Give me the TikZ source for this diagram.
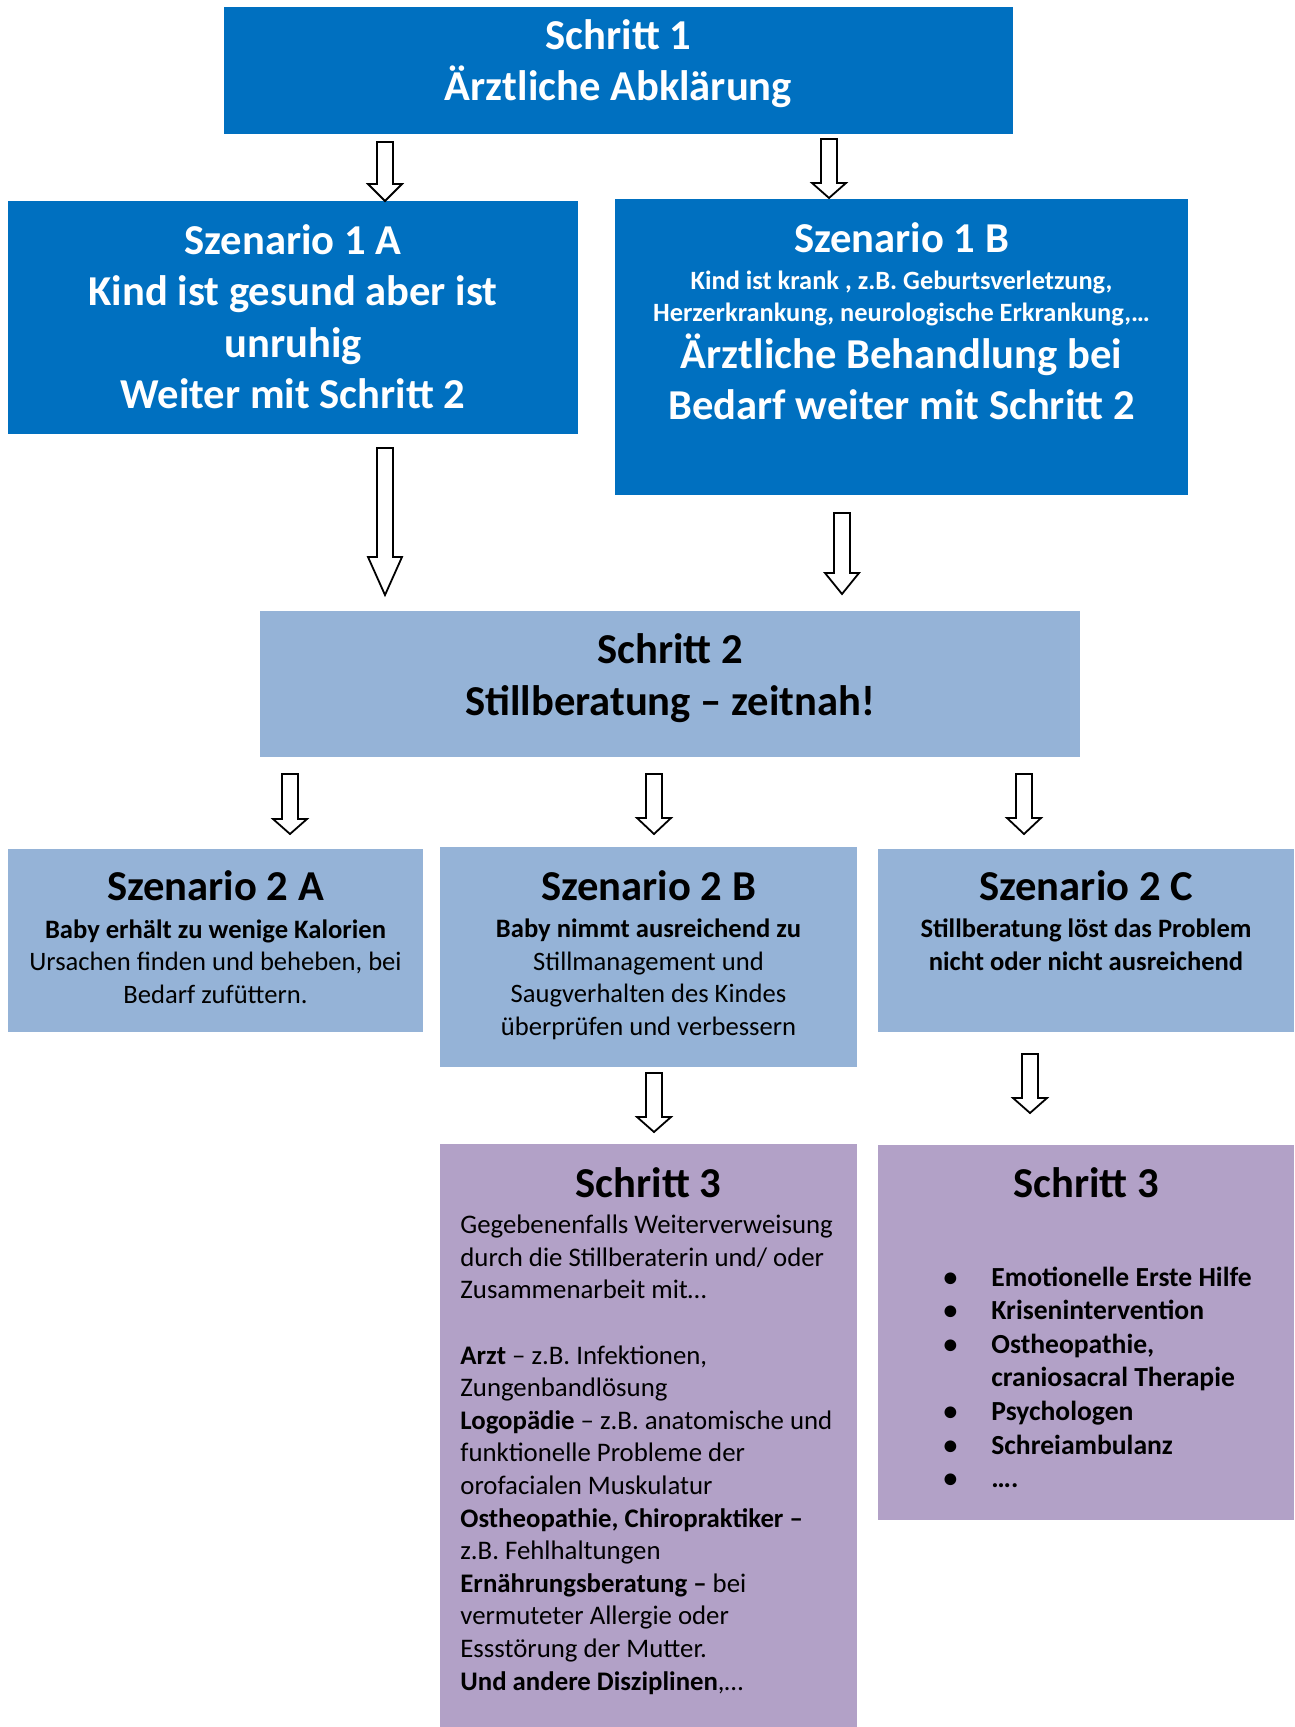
\documentclass[tikz,border=0pt]{standalone}
\usepackage{fontspec}
\setmainfont{Carlito}
\usetikzlibrary{fit,calc}
\definecolor{stepblue}{HTML}{0070C0}
\definecolor{stepltblue}{HTML}{95B3D7}
\definecolor{steplilac}{HTML}{B2A1C7}
\newcommand\hollowarrow[3]{%
  \draw[hollow] ($(#1)+(-8,0)$) -- ($(#1)+(8,0)$) -- ($(#2)+(8,-#3)$) -- ($(#2)+(17,-#3)$)
    -- (#2) -- ($(#2)+(-17,-#3)$) -- ($(#2)+(-8,-#3)$) -- cycle;}
\begin{document}
\begin{tikzpicture}[x=0.5pt,y=-0.5pt,
  box/.style={inner sep=0pt,outer sep=0pt},
  bigtxt/.style={font=\fontsize{21.3}{25.8}\selectfont\bfseries,align=center,anchor=base,inner sep=0pt},
  smalltxt/.style={font=\fontsize{13.3}{16.2}\selectfont,align=center,anchor=base,inner sep=0pt},
  hollow/.style={draw=black,fill=white,line width=0.9pt,line join=miter}]
  \useasboundingbox (0,0) rectangle (1294,1727);
  \node[box,fill=stepblue,fit={(224,7) (1013,134)}] (s1) {};
  \node[box,fill=stepblue,fit={(8,201) (578,434)}] (z1a) {};
  \node[box,fill=stepblue,fit={(615,199) (1188,495)}] (z1b) {};
  \node[box,fill=stepltblue,fit={(260,611) (1080,757)}] (s2) {};
  \node[box,fill=stepltblue,fit={(8,849) (423,1032)}] (z2a) {};
  \node[box,fill=stepltblue,fit={(440,847) (857,1067)}] (z2b) {};
  \node[box,fill=stepltblue,fit={(878,849) (1294,1032)}] (z2c) {};
  \node[box,fill=steplilac,fit={(440,1144) (857,1727)}] (s3l) {};
  \node[box,fill=steplilac,fit={(878,1145) (1294,1520)}] (s3r) {};
  % texts (base = last line)
  \node[bigtxt,white] (s1t) at (618.5,101) {Schritt 1\\Ärztliche Abklärung};
  \node[bigtxt,white] (z1at) at (293,409) {Szenario 1 A\\Kind ist gesund aber ist\\unruhig\\Weiter mit Schritt 2};
  \node[bigtxt,white] (z1bt) at (901.5,253) {Szenario 1 B};
  \node[smalltxt,white,font=\fontsize{13.2}{16}\selectfont\bfseries] (z1bs) at (901.5,322)
    {Kind ist krank , z.B. Geburtsverletzung,\\Herzerkrankung, neurologische Erkrankung,…};
  \node[bigtxt,white] (z1bb) at (901.5,420) {Ärztliche Behandlung bei\\Bedarf weiter mit Schritt 2};
  \node[bigtxt] (s2t) at (670,715) {Schritt 2\\Stillberatung – zeitnah!};
  \node[bigtxt] (z2at) at (215.5,900) {Szenario 2 A};
  \node[smalltxt] (z2ab) at (215.5,1003) {\textbf{Baby erhält zu wenige Kalorien}\\Ursachen finden und beheben, bei\\Bedarf zufüttern.};
  \node[bigtxt] (z2bt) at (648.5,900) {Szenario 2 B};
  \node[smalltxt] (z2bb) at (648.5,1035) {\textbf{Baby nimmt ausreichend zu}\\Stillmanagement und\\Saugverhalten des Kindes\\überprüfen und verbessern};
  \node[bigtxt] (z2ct) at (1086,900) {Szenario 2 C};
  \node[smalltxt,font=\fontsize{13.3}{16.2}\selectfont\bfseries] (z2cb) at (1086,970) {Stillberatung löst das Problem\\nicht oder nicht ausreichend};
  \node[bigtxt] (s3lt) at (648.5,1197) {Schritt 3};
  \node[smalltxt,align=left,anchor=base west,font=\fontsize{13.4}{16.3}\selectfont] (s3lb) at (460,1690)
    {Gegebenenfalls Weiterverweisung\\durch die Stillberaterin und/ oder\\Zusammenarbeit mit…\\[16.3pt]
     \textbf{Arzt} – z.B. Infektionen,\\Zungenbandlösung\\\textbf{Logopädie} – z.B. anatomische und\\
     funktionelle Probleme der\\orofacialen Muskulatur\\\textbf{Ostheopathie, Chiropraktiker –}\\
     z.B. Fehlhaltungen\\\textbf{Ernährungsberatung –} bei\\vermuteter Allergie oder\\
     Essstörung der Mutter.\\\textbf{Und andere Disziplinen},…};
  \node[bigtxt] (s3rt) at (1086,1197) {Schritt 3};
  \node[anchor=base west,inner sep=0pt,font=\fontsize{13.8}{16.8}\selectfont\bfseries] (s3rb) at (950,1286)
    {\begin{tabular}[t]{@{}c@{\hspace{20.5pt}}l@{}}
      \makebox[0pt]{•}&Emotionelle Erste Hilfe\\
      \makebox[0pt]{•}&Krisenintervention\\
      \makebox[0pt]{•}&Ostheopathie,\\
      &craniosacral Therapie\\
      \makebox[0pt]{•}&Psychologen\\
      \makebox[0pt]{•}&Schreiambulanz\\
      \makebox[0pt]{•}&….
    \end{tabular}};
  % arrows
  \foreach \n/\x/\ya/\yb/\h in {1/385/142/201/17,2/829/139/198/15,3/385/448/595/38,4/842/513/594/21,
      5/290/774/834/15,6/654/774/834/16,7/1024/774/834/16,8/654/1073/1132/15,9/1030/1054/1113/15}{
    \coordinate (t\n) at (\x,\ya);
    \coordinate (h\n) at (\x,\yb);
    \hollowarrow{t\n}{h\n}{\h}
  }
\end{tikzpicture}
\end{document}
